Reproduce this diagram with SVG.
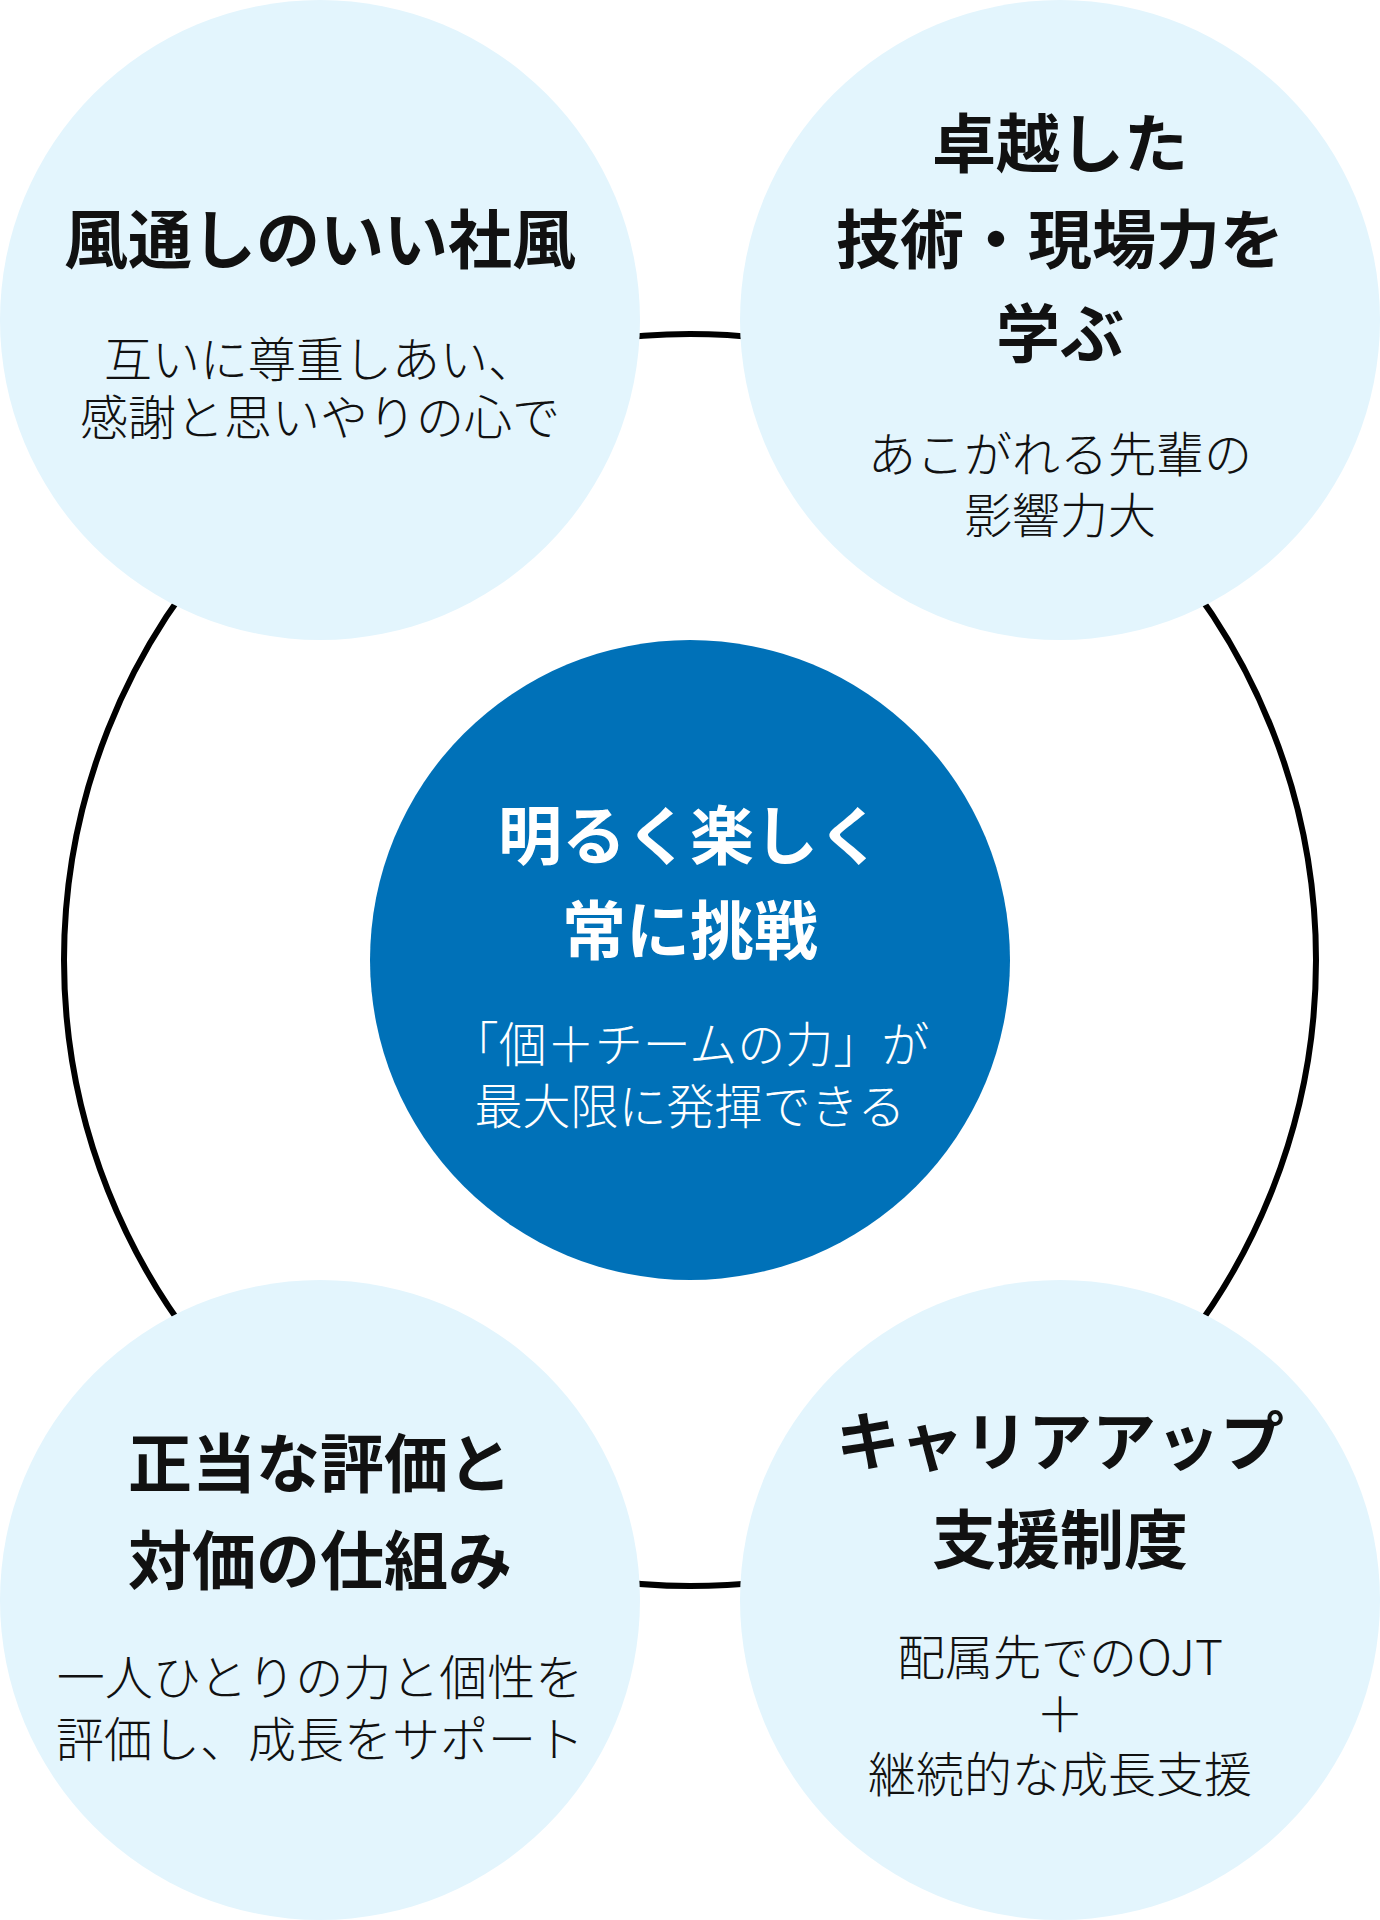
<svg xmlns="http://www.w3.org/2000/svg" width="1380" height="1920" viewBox="0 0 1380 1920">
<style>
.bg{fill:#ffffff}
.ring{fill:none;stroke:#000000;stroke-width:6}
.light{fill:#E3F5FD}
.core{fill:#0071B8}
.t{font-family:"Noto Sans CJK JP","Noto Sans",sans-serif;font-weight:700;font-size:64px;text-anchor:middle;fill:#111111}
.s{font-family:"Noto Sans CJK JP","Noto Sans",sans-serif;font-weight:300;font-size:48px;text-anchor:middle;fill:#111111}
.w{fill:#ffffff}
</style>
<rect class="bg" x="0" y="0" width="1380" height="1920"/>
<g id="connectors">
<circle class="ring" cx="690" cy="960" r="626"/>
</g>
<g id="node-top-left">
<circle class="light" cx="320" cy="320" r="320"/>
<text class="t" x="320" y="263">風通しのいい社風</text>
<text class="s" x="320" y="377">互いに尊重しあい、</text>
<text class="s" x="320" y="435">感謝と思いやりの心で</text>
</g>
<g id="node-top-right">
<circle class="light" cx="1060" cy="320" r="320"/>
<text class="t" x="1060" y="167">卓越した</text>
<text class="t" x="1060" y="263">技術・現場力を</text>
<text class="t" x="1060" y="357">学ぶ</text>
<text class="s" x="1060" y="472">あこがれる先輩の</text>
<text class="s" x="1060" y="533">影響力大</text>
</g>
<g id="node-center">
<circle class="core" cx="690" cy="960" r="320"/>
<text class="t w" x="690" y="859">明るく楽しく</text>
<text class="t w" x="690" y="954">常に挑戦</text>
<text class="s w" x="690" y="1062">「個＋チームの力」が</text>
<text class="s w" x="690" y="1124">最大限に発揮できる</text>
</g>
<g id="node-bottom-left">
<circle class="light" cx="320" cy="1600" r="320"/>
<text class="t" x="320" y="1487">正当な評価と</text>
<text class="t" x="320" y="1584">対価の仕組み</text>
<text class="s" x="320" y="1695">一人ひとりの力と個性を</text>
<text class="s" x="320" y="1757">評価し、成長をサポート</text>
</g>
<g id="node-bottom-right">
<circle class="light" cx="1060" cy="1600" r="320"/>
<text class="t" x="1060" y="1465">キャリアアップ</text>
<text class="t" x="1060" y="1563">支援制度</text>
<text class="s" x="1060" y="1675">配属先でのOJT</text>
<text class="s" x="1060" y="1732">＋</text>
<text class="s" x="1060" y="1792">継続的な成長支援</text>
</g>
</svg>
